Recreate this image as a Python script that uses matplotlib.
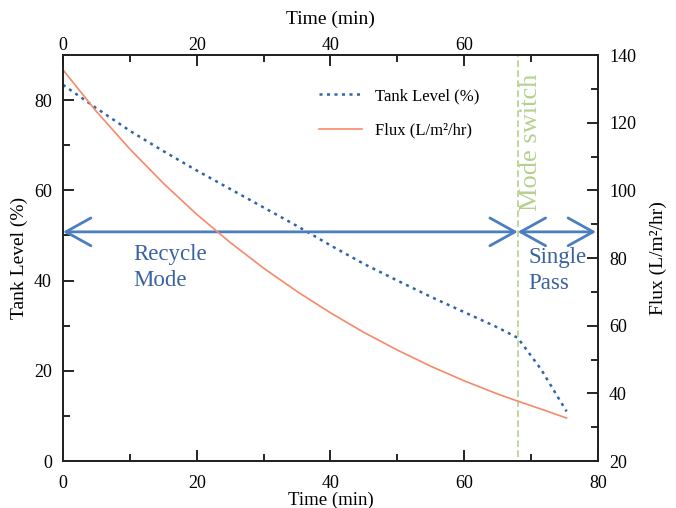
import matplotlib
matplotlib.use("Agg")
import matplotlib.pyplot as plt
from matplotlib.ticker import MultipleLocator

plt.rcParams['font.family'] = ['Liberation Serif', 'DejaVu Serif']

# Data
tank_time = [0, 5, 10, 15, 20, 25, 30, 35, 40, 45, 50, 55, 60, 65, 68, 71.5, 75.3]
tank_level = [83.4, 78.2, 73.2, 68.7, 64.4, 60.3, 56.2, 52.1, 47.8, 43.7, 40.0, 36.4, 33.0, 29.6, 27.3, 20.3, 11.0]
flux_time = [0, 5, 10, 15, 20, 25, 30, 35, 40, 45, 50, 55, 60, 65, 68, 72, 75.3]
flux = [135.6, 123.3, 112.2, 102.1, 92.9, 84.6, 77.0, 70.1, 63.8, 58.0, 52.8, 48.0, 43.7, 39.8, 37.7, 35.0, 32.7]
mode_switch_time = 68
arrow_level = 50.8

blue = '#2E64A8'
red = '#F7896A'
green = '#B6D08E'
arrow_c = '#4A7EBF'
text_c = '#3A62A0'

fig = plt.figure(figsize=(6.76, 5.08), dpi=100)
ax = fig.add_axes([0.0932, 0.0925, 0.7914, 0.7992])
ax2 = ax.twinx()
ax3 = ax.twiny()

l1, = ax.plot(tank_time, tank_level, linestyle=(0, (1.2, 1.8)), color=blue, lw=1.8, label='Tank Level (%)')
l2, = ax2.plot(flux_time, flux, color=red, lw=1.2, label='Flux (L/m²/hr)')
ax.axvline(mode_switch_time, color=green, lw=1.2, ls=(0, (4, 2)), ymin=0.01, ymax=1.0)

ax.set_xlim(0, 80)
ax.set_ylim(0, 90)
ax2.set_ylim(20, 140)
ax3.set_xlim(0, 80)

ax.xaxis.set_major_locator(MultipleLocator(20))
ax.xaxis.set_minor_locator(MultipleLocator(10))
ax.yaxis.set_major_locator(MultipleLocator(20))
ax.yaxis.set_minor_locator(MultipleLocator(10))
ax2.yaxis.set_major_locator(MultipleLocator(20))
ax2.yaxis.set_minor_locator(MultipleLocator(10))
ax3.set_xticks([0, 20, 40, 60])
ax3.set_xticks([10, 30, 50, 70], minor=True)

for a in (ax, ax2, ax3):
    for s in a.spines.values():
        s.set_linewidth(1.2)
        s.set_color('#222222')

ax.tick_params(axis='x', which='major', direction='in', length=8, width=1.2, pad=10, labelsize=13)
ax.tick_params(axis='x', which='minor', direction='in', length=5, width=1.2)
ax.tick_params(axis='y', which='major', direction='in', length=8, width=1.2, pad=8, labelsize=13)
ax.tick_params(axis='y', which='minor', direction='in', length=5, width=1.2)
ax2.tick_params(axis='y', which='major', direction='in', length=8, width=1.2, pad=8, labelsize=13)
ax2.tick_params(axis='y', which='minor', direction='in', length=5, width=1.2)
ax3.tick_params(axis='x', which='major', direction='in', length=8, width=1.2, pad=1, labelsize=13)
ax3.tick_params(axis='x', which='minor', direction='in', length=5, width=1.2)

ax.set_xlabel('Time (min)', fontsize=13.5, labelpad=0)
ax3.set_xlabel('Time (min)', fontsize=14, labelpad=9)
ax.set_ylabel('Tank Level (%)', fontsize=14, labelpad=4)
ax2.set_ylabel('Flux (L/m²/hr)', fontsize=14, labelpad=10)

# arrows
for x0, x1 in [(0, mode_switch_time), (mode_switch_time, 79.7)]:
    ax.annotate('', xy=(x0, arrow_level), xytext=(x1, arrow_level),
                arrowprops=dict(arrowstyle='<->,head_length=0.9,head_width=0.5', color=arrow_c,
                                lw=2, shrinkA=0, shrinkB=0, mutation_scale=20),
                annotation_clip=False)

ax.text(10.5, 48.0, 'Recycle\nMode', color=text_c, fontsize=16.5, ha='left', va='top', linespacing=1.3)
ax.text(69.6, 47.4, 'Single\nPass', color=text_c, fontsize=16.5, ha='left', va='top', linespacing=1.3)
ax.text(68.4, 55.5, 'Mode switch', color=green, fontsize=19, rotation=90, ha='left', va='bottom')

ax.legend(handles=[l1, l2], loc='upper left', bbox_to_anchor=(0.45, 0.955), frameon=False,
          fontsize=12, handlelength=2.6, handletextpad=0.8, labelspacing=1.1)

fig.savefig('out.png', dpi=100)
